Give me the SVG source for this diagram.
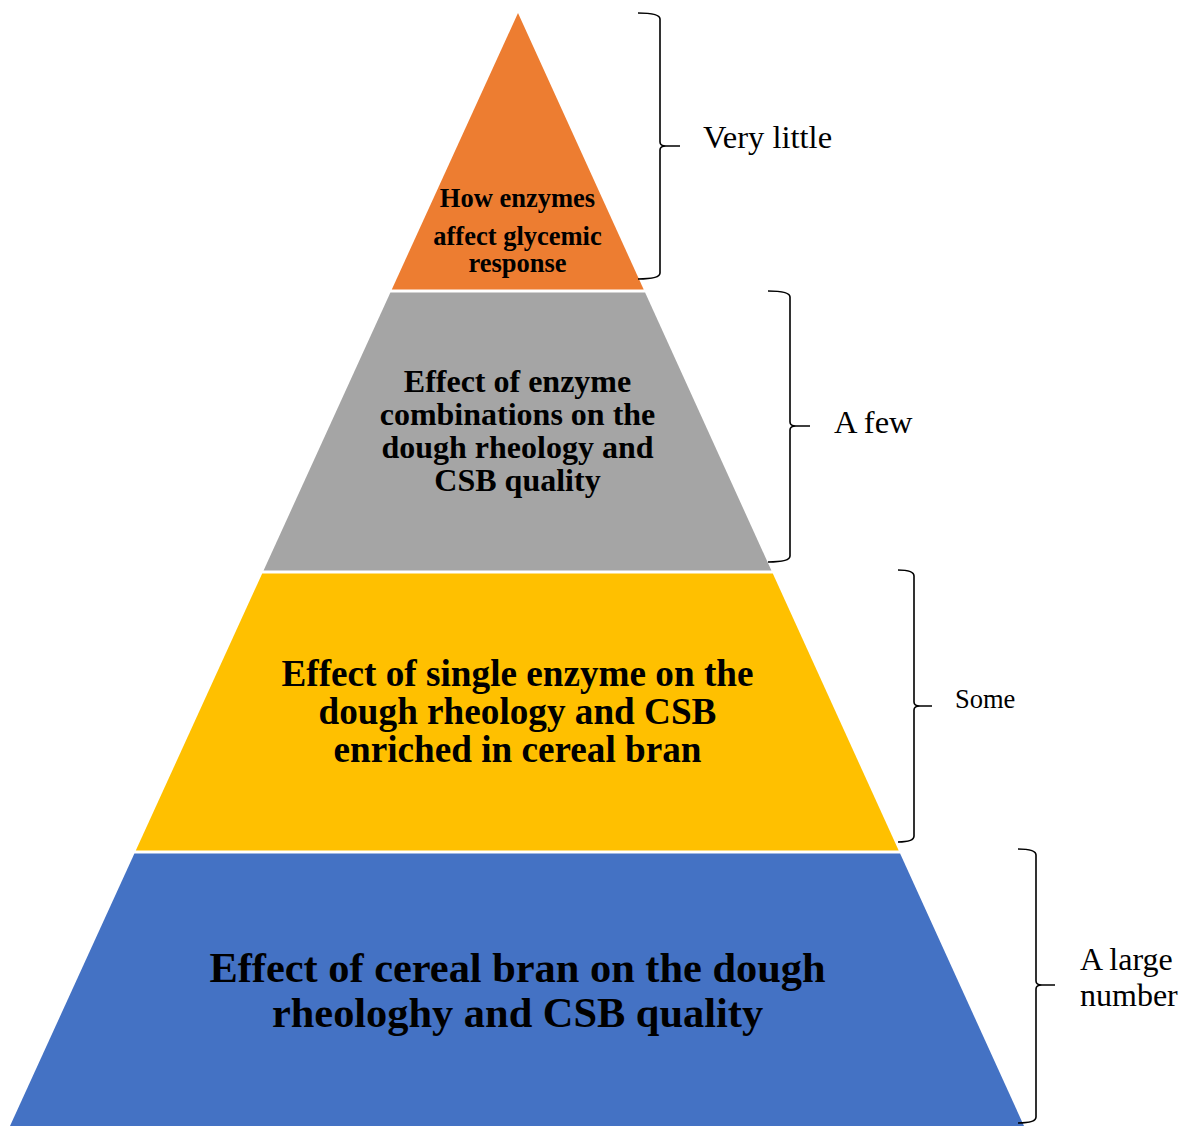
<svg xmlns="http://www.w3.org/2000/svg" width="1191" height="1126" viewBox="0 0 1191 1126">
<style>
.lbl{font-family:"Liberation Serif","Times New Roman",serif;font-weight:bold;fill:#000;text-anchor:middle}
.side{font-family:"Liberation Serif","Times New Roman",serif;fill:#000}
.brace{fill:none;stroke:#000;stroke-width:1.6;stroke-linejoin:round;stroke-linecap:butt}
</style>
<rect width="1191" height="1126" fill="#fff"/>
<g id="level-top">
<polygon points="518,13 643.7,289.5 391.8,289.5" fill="#ED7D31"/>
<text class="lbl" font-size="26.5" x="517.5" y="207">How enzymes</text>
<text class="lbl" font-size="26.5" x="517.5" y="245">affect glycemic</text>
<text class="lbl" font-size="26.5" x="517.5" y="272">response</text>
</g>
<g id="level-2">
<polygon points="390.4,292.5 645.1,292.5 771.4,570.5 263.6,570.5" fill="#A5A5A5"/>
<text class="lbl" font-size="32" x="517.5" y="392">Effect of enzyme</text>
<text class="lbl" font-size="32" x="517.5" y="425">combinations on the</text>
<text class="lbl" font-size="32" x="517.5" y="458">dough rheology and</text>
<text class="lbl" font-size="32" x="517.5" y="491">CSB quality</text>
</g>
<g id="level-3">
<polygon points="262.2,573.5 772.8,573.5 898.7,850.5 135.8,850.5" fill="#FFC000"/>
<text class="lbl" font-size="37.2" x="517.5" y="686">Effect of single enzyme on the</text>
<text class="lbl" font-size="37.2" x="517.5" y="724">dough rheology and CSB</text>
<text class="lbl" font-size="37.2" x="517.5" y="762">enriched in cereal bran</text>
</g>
<g id="level-bottom">
<polygon points="134.4,853.5 900.1,853.5 1024,1126 10,1126" fill="#4472C4"/>
<text class="lbl" font-size="42.4" x="517.5" y="982">Effect of cereal bran on the dough</text>
<text class="lbl" font-size="42.4" x="517.5" y="1027">rheologhy and CSB quality</text>
</g>
<g id="connectors">
<path class="brace" d="M638,13 Q660,13 660,19 L660,142 Q660,146 666,146 L680,146 M666,146 Q660,146 660,150 L660,273 Q660,279 638,279"/>
<path class="brace" d="M768,291 Q790,291 790,297 L790,422 Q790,426 796,426 L810,426 M796,426 Q790,426 790,430 L790,556 Q790,562 768,562"/>
<path class="brace" d="M898,570 Q914,570 914,576 L914,702 Q914,706 920,706 L932,706 M920,706 Q914,706 914,710 L914,836 Q914,842 898,842"/>
<path class="brace" d="M1018,849 Q1036,849 1036,855 L1036,981 Q1036,985 1042,985 L1055,985 M1042,985 Q1036,985 1036,989 L1036,1117 Q1036,1123 1018,1123"/>
</g>
<g id="label-very-little"><text class="side" font-size="32.5" x="703" y="148">Very little</text></g>
<g id="label-a-few"><text class="side" font-size="32.5" x="834" y="433">A few</text></g>
<g id="label-some"><text class="side" font-size="26.5" x="955" y="708">Some</text></g>
<g id="label-a-large-number">
<text class="side" font-size="32" x="1080" y="970">A large</text>
<text class="side" font-size="32" x="1080" y="1006">number</text>
</g>
</svg>
